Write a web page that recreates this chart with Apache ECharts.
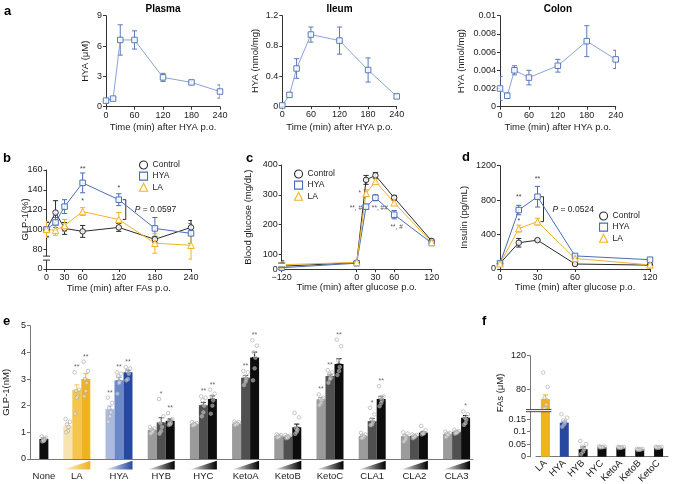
<!DOCTYPE html>
<html><head><meta charset="utf-8">
<script src="https://cdn.jsdelivr.net/npm/echarts@6.0.0/dist/echarts.min.js"></script>
<style>html,body{margin:0;padding:0;background:#fff}#c{width:681px;height:484px}</style>
</head><body><div id="c"></div><script>
const FONT = '"Liberation Sans", Arial, sans-serif';

// ---------------- data: panel a ----------------
const aTimes = [0, 15, 30, 60, 120, 180, 240];
const aTicks = [0, 60, 120, 180, 240];
const plasmaMean = [0.6, 0.8, 6.6, 6.6, 2.9, 2.4, 1.5];
const plasmaErr  = [0.2, 0.1, 1.5, 0.9, 0.4, 0.15, 0.65];
const ileumMean  = [0.01, 0.15, 0.5, 0.95, 0.87, 0.48, 0.13];
const ileumErr   = [0.02, 0.03, 0.13, 0.1, 0.18, 0.16, 0.02];
const colonMean  = [0.002, 0.0012, 0.004, 0.0032, 0.0045, 0.0072, 0.0052];
const colonErr   = [0.0013, 0.0003, 0.0005, 0.0008, 0.0007, 0.0017, 0.001];

// ---------------- data: panel b ----------------
const bTimes = [0, 15, 30, 60, 120, 180, 240];
const bTicks = [0, 30, 60, 120, 180, 240];
const bControl = [100, 117, 101, 98, 102, 90, 102];
const bControlErr = [7, 12, 6, 6, 4, 3, 7];
const bHYA = [100, 107, 123, 147, 130, 101, 96];
const bHYAErr = [8, 5, 7, 10, 6, 11, 10];
const bLA = [100, 99, 104, 118, 110, 86, 84];
const bLAErr = [8, 5, 6, 4, 7, 10, 14];

// ---------------- data: panel c ----------------
const cTimes = [-120, 0, 15, 30, 60, 120];
const cTicks = [-120, 0, 30, 60, 120];
const cControl = [60, 72, 350, 365, 290, 145];
const cControlErr = [18, 6, 15, 10, 8, 8];
const cHYA = [55, 70, 260, 290, 233, 138];
const cHYAErr = [5, 5, 8, 10, 14, 8];
const cLA = [65, 73, 305, 345, 273, 140];
const cLAErr = [6, 5, 12, 8, 8, 6];

// ---------------- data: panel d ----------------
const dTimes = [0, 15, 30, 60, 120];
const dTicks = [0, 30, 60, 120];
const dControl = [65, 305, 335, 58, 45];
const dControlErr = [15, 50, 15, 10, 8];
const dHYA = [65, 685, 840, 152, 108];
const dHYAErr = [15, 55, 120, 15, 10];
const dLA = [60, 470, 550, 122, 48];
const dLAErr = [10, 40, 40, 15, 8];

// ---------------- data: panel e ----------------
const eCats = ['None', 'LA', 'HYA', 'HYB', 'HYC', 'KetoA', 'KetoB', 'KetoC', 'CLA1', 'CLA2', 'CLA3'];
const eNone = 0.75, eNoneErr = 0.04;
const eNoneDots = [0.85, 0.8, 0.76, 0.72, 0.68, 0.66];
const eLow  = [1.25, 1.87, 1.09, 1.31, 1.33, 0.86, 2.24, 0.86, 0.86, 0.94];
const eMid  = [2.58, 2.95, 1.37, 2.02, 3.05, 0.84, 3.11, 1.42, 0.86, 1.02];
const eHigh = [3.0, 3.25, 1.43, 2.25, 3.81, 1.19, 3.56, 2.25, 0.99, 1.55];
const eLowErr  = [0.08, 0.12, 0.04, 0.03, 0.03, 0.02, 0.06, 0.03, 0.05, 0.03];
const eMidErr  = [0.2, 0.12, 0.18, 0.1, 0.08, 0.02, 0.07, 0.1, 0.03, 0.03];
const eHighErr = [0.2, 0.08, 0.07, 0.12, 0.2, 0.12, 0.2, 0.1, 0.04, 0.08];
const eLowSig  = ['', '**', '', '', '', '', '**', '', '', ''];
const eMidSig  = ['**', '**', '*', '**', '**', '', '**', '*', '', ''];
const eHighSig = ['**', '**', '**', '**', '**', '', '**', '**', '', '*'];
const eLowDots = [
  [1.5, 1.4, 1.3, 1.2, 1.05, 1.0], [2.3, 2.1, 1.9, 1.75, 1.6, 1.4], [1.2, 1.15, 1.1, 1.05, 1.0, 0.95],
  [1.38, 1.35, 1.32, 1.3, 1.28, 1.25], [1.4, 1.38, 1.35, 1.32, 1.3, 1.27], [0.92, 0.9, 0.88, 0.85, 0.82, 0.8],
  [2.42, 2.3, 2.25, 2.2, 2.1, 2.02], [0.98, 0.92, 0.88, 0.85, 0.8, 0.78], [1.0, 0.95, 0.88, 0.8, 0.72, 0.65],
  [1.02, 0.98, 0.95, 0.92, 0.88, 0.82]];
const eMidDots = [
  [3.25, 2.6, 2.55, 2.35, 2.3, 1.7], [3.25, 3.2, 3.1, 2.9, 2.85, 2.45], [2.25, 1.6, 1.35, 1.2, 1.05, 0.95],
  [2.35, 2.3, 2.2, 2.0, 1.75, 1.6], [3.3, 3.25, 3.1, 3.0, 2.9, 2.77], [0.9, 0.88, 0.85, 0.83, 0.8, 0.78],
  [3.33, 3.25, 3.18, 3.05, 3.0, 2.86], [1.92, 1.67, 1.5, 1.4, 1.3, 1.27], [0.92, 0.9, 0.88, 0.85, 0.82, 0.78],
  [1.1, 1.05, 1.02, 1.0, 0.98, 0.95]];
const eHighDots = [
  [3.65, 3.3, 3.0, 2.85, 2.55, 2.35], [3.45, 3.4, 3.3, 3.2, 3.0, 2.95], [1.72, 1.5, 1.4, 1.35, 1.3, 1.28],
  [2.6, 2.45, 2.35, 2.2, 2.0, 1.7], [4.45, 4.25, 4.0, 3.8, 3.4, 2.95], [1.73, 1.56, 1.15, 1.1, 1.02, 0.94],
  [4.48, 4.23, 3.7, 3.45, 3.3, 3.15], [2.73, 2.35, 2.3, 2.2, 2.1, 1.98], [1.24, 1.08, 1.0, 0.98, 0.95, 0.92],
  [1.78, 1.68, 1.55, 1.47, 1.35, 1.28]];

// ---------------- data: panel f ----------------
const fCats = ['LA', 'HYA', 'HYB', 'HYC', 'KetoA', 'KetoB', 'KetoC'];
const fMean = [68.5, 0.136, 0.03, 0.038, 0.036, 0.029, 0.035];
const fErr  = [5, 0.006, 0.009, 0.001, 0.001, 0.001, 0.001];
const fDots = [
  [100, 83, 70, 62, 58, 57], [0.17, 0.156, 0.145, 0.14, 0.13, 0.12], [0.063, 0.05, 0.04, 0.03, 0.02, 0.01],
  [0.041, 0.04, 0.04, 0.039, 0.038, 0.037], [0.04, 0.039, 0.038, 0.037, 0.036, 0.035],
  [0.032, 0.031, 0.03, 0.029, 0.028, 0.027], [0.04, 0.039, 0.038, 0.037, 0.036, 0.035]];

// ---------------- styles / layout ----------------
const C_CTRL = '#2b2b2b', C_HYA = '#4a6db5', C_LA = '#efb42a';
const A_LINE = '#8aa3d6', A_MARK = '#5a7abd';
const E_COLORS = {
  LA: ['#f8e4b0', '#f4c64e', '#f0b31e'],
  HYA: ['#abbadf', '#6b89c8', '#26489f'],
  other: ['#9b9b9b', '#505050', '#0d0d0d']
};
const F_COLORS = ['#f0b31e', '#26489f', '#0d0d0d', '#0d0d0d', '#0d0d0d', '#0d0d0d', '#0d0d0d'];
const ePos = [0.22, 1, 2, 3, 4, 5, 6, 7, 8, 9, 10];   // slot of each group on the hidden value axis
const EDX = 0.2133;                                     // spacing of bars inside a group
const DOT_OFF = [-2.2, 2.2, -0.8, 0.8, 0, -1.6];

const grids = [
  [106, 15.7, 114, 91],      // 0 plasma
  [282.3, 15.7, 114.4, 90.5],// 1 ileum
  [500, 15.7, 115.7, 91],    // 2 colon
  [46.5, 170, 144.5, 99],    // 3 b
  [281.7, 165, 150, 104.2],  // 4 c
  [500, 165.7, 150, 103.3],  // 5 d
  [30, 325.7, 443, 133.3],   // 6 e
  [536, 355.7, 132, 53.9],   // 7 f upper
  [536, 411.7, 132, 45]      // 8 f lower
];

function mkAxis(gi, p) {
  const col = p.color || '#333';
  const a = {
    type: p.type || 'value', gridIndex: gi, show: p.show !== false,
    offset: p.offset || 0,
    name: p.name || '', nameLocation: 'middle', nameGap: p.nameGap || 15,
    nameMoveOverlap: false,
    nameTextStyle: {fontSize: 9.5, color: '#1a1a1a', fontFamily: FONT},
    axisLine: {show: true, onZero: false, lineStyle: {color: col, width: 1}},
    axisTick: {show: p.tick !== false, length: 3, inside: false, alignWithLabel: true, lineStyle: {color: col, width: 1}},
    axisLabel: {show: true, fontSize: p.fontSize || 9, color: '#1a1a1a', fontFamily: FONT,
      margin: p.margin || 4, hideOverlap: false, showMinLabel: true, showMaxLabel: true,
      formatter: v => String(v)},
    splitLine: {show: false}, splitArea: {show: false}
  };
  if (p.type === 'category') { a.data = p.data; a.boundaryGap = true; a.axisLabel.interval = 0; a.axisTick.interval = 0; }
  else { a.min = p.min; a.max = p.max; if (p.interval) a.interval = p.interval; }
  if (p.custom) { a.axisTick.customValues = p.custom; a.axisLabel.customValues = p.custom; }
  if (p.formatter) a.axisLabel.formatter = p.formatter;
  if (p.rotate) a.axisLabel.rotate = p.rotate;
  return a;
}
const minusFmt = v => v < 0 ? '\u2212' + (-v) : String(v);

const xAxes = [
  mkAxis(0, {min: 0, max: 240, interval: 60, name: 'Time (min) after HYA p.o.', nameGap: 16}),
  mkAxis(1, {min: 0, max: 240, interval: 60, name: 'Time (min) after HYA p.o.', nameGap: 16}),
  mkAxis(2, {min: 0, max: 240, interval: 60, name: 'Time (min) after HYA p.o.', nameGap: 16}),
  mkAxis(3, {min: 0, max: 240, custom: bTicks, name: 'Time (min) after FAs p.o.', nameGap: 14}),
  mkAxis(4, {min: -120, max: 120, custom: cTicks, formatter: minusFmt, name: 'Time (min) after glucose p.o.', nameGap: 13}),
  mkAxis(5, {min: 0, max: 120, custom: dTicks, name: 'Time (min) after glucose p.o.', nameGap: 13}),
  mkAxis(6, {min: -0.109, max: 10.389, custom: ePos, tick: false, color: '#777', margin: 12, fontSize: 9.5,
    formatter: v => eCats[ePos.findIndex(p => Math.abs(p - v) < 1e-6)] || ''}),
  mkAxis(7, {type: 'category', data: fCats, show: false}),
  mkAxis(8, {type: 'category', data: fCats, color: '#777', tick: false, rotate: 45, margin: 5, fontSize: 9.5, formatter: v => v})
];
const yAxes = [
  mkAxis(0, {min: 0, max: 9, interval: 3, name: 'HYA (\u03bcM)', nameGap: 16}),
  mkAxis(1, {min: 0, max: 1.2, interval: 0.4, name: 'HYA (nmol/mg)', nameGap: 22}),
  mkAxis(2, {min: 0, max: 0.01, interval: 0.002, name: 'HYA (nmol/mg)', nameGap: 34}),
  mkAxis(3, {min: 60, max: 160, interval: 20, formatter: v => v === 60 ? '0' : String(v), name: 'GLP-1(%)', nameGap: 16}),
  mkAxis(4, {min: 50, max: 400, interval: 50, custom: [50, 100, 200, 300, 400], formatter: v => v === 50 ? '0' : String(v), name: 'Blood glucose (mg/dL)', nameGap: 28}),
  mkAxis(5, {min: 0, max: 1200, interval: 400, name: 'Insulin (pg/mL)', nameGap: 31}),
  mkAxis(6, {min: 0, max: 5, interval: 1, color: '#777', name: 'GLP-1(nM)', nameGap: 19}),
  mkAxis(7, {min: 56, max: 120, custom: [80, 120], offset: 6, color: '#777'}),
  mkAxis(8, {min: 0, max: 0.18, interval: 0.05, custom: [0, 0.05, 0.1, 0.15], offset: 6, color: '#777'})
];

function errRender(params, api) {
  const x = api.value(0), lo = api.value(1), hi = api.value(2);
  const a = api.coord([x, lo]), b = api.coord([x, hi]);
  const w = 2.6;
  const st = {stroke: api.visual('color'), lineWidth: 1, fill: null};
  return {type: 'group', children: [
    {type: 'line', shape: {x1: a[0], y1: a[1], x2: b[0], y2: b[1]}, style: st},
    {type: 'line', shape: {x1: a[0] - w, y1: a[1], x2: a[0] + w, y2: a[1]}, style: st},
    {type: 'line', shape: {x1: b[0] - w, y1: b[1], x2: b[0] + w, y2: b[1]}, style: st}
  ]};
}
function lineS(name, gi, xs, ys, color, symbol, lineColor) {
  return {type: 'line', name, xAxisIndex: gi, yAxisIndex: gi, data: xs.map((x, i) => [x, ys[i]]),
    symbol, symbolSize: symbol === 'triangle' ? 6.5 : 5.5, showAllSymbol: true, clip: false,
    lineStyle: {color: lineColor || color, width: 1},
    itemStyle: {color: 'rgba(255,255,255,0.85)', borderColor: color, borderWidth: 1}, z: 4};
}
function errS(name, gi, xs, ys, es, color) {
  return {type: 'custom', name, xAxisIndex: gi, yAxisIndex: gi, renderItem: errRender, clip: true, silent: true,
    data: xs.map((x, i) => [x, ys[i] - es[i], ys[i] + es[i]]), itemStyle: {color}, encode: {x: 0, y: [1, 2]}, z: 3};
}

const series = [];
// panel a
[[plasmaMean, plasmaErr], [ileumMean, ileumErr], [colonMean, colonErr]].forEach((d, gi) => {
  series.push(errS('HYA-a' + gi, gi, aTimes, d[0], d[1], A_MARK));
  series.push(lineS('HYA-a' + gi, gi, aTimes, d[0], A_MARK, 'rect', A_LINE));
});
// panels b, c, d
[[3, bTimes, bControl, bControlErr, bHYA, bHYAErr, bLA, bLAErr],
 [4, cTimes, cControl, cControlErr, cHYA, cHYAErr, cLA, cLAErr],
 [5, dTimes, dControl, dControlErr, dHYA, dHYAErr, dLA, dLAErr]].forEach(p => {
  const gi = p[0], t = p[1];
  series.push(errS('Control', gi, t, p[2], p[3], C_CTRL));
  series.push(errS('HYA', gi, t, p[4], p[5], C_HYA));
  series.push(errS('LA', gi, t, p[6], p[7], C_LA));
  series.push(lineS('Control', gi, t, p[2], C_CTRL, 'circle'));
  series.push(lineS('HYA', gi, t, p[4], C_HYA, 'rect'));
  series.push(lineS('LA', gi, t, p[6], C_LA, 'triangle'));
});

// panel e
const eBars = [], eErrs = [], eDotData = [], eSigData = [];
function addEBar(x, v, err, dots, sig, color) {
  eBars.push({value: [x, v], itemStyle: {color}});
  eErrs.push({value: [x, v, v + err], itemStyle: {color}});
  dots.forEach((d, k) => eDotData.push({value: [x, d], symbolOffset: [DOT_OFF[k % DOT_OFF.length], 0]}));
  if (sig) eSigData.push({name: sig, value: [x, Math.max(Math.max.apply(null, dots), v + err)]});
}
addEBar(ePos[0], eNone, eNoneErr, eNoneDots, '', E_COLORS.other[2]);
for (let g = 1; g < eCats.length; g++) {
  const pal = g === 1 ? E_COLORS.LA : g === 2 ? E_COLORS.HYA : E_COLORS.other;
  const i = g - 1;
  addEBar(ePos[g] - EDX, eLow[i], eLowErr[i], eLowDots[i], eLowSig[i], pal[0]);
  addEBar(ePos[g], eMid[i], eMidErr[i], eMidDots[i], eMidSig[i], pal[1]);
  addEBar(ePos[g] + EDX, eHigh[i], eHighErr[i], eHighDots[i], eHighSig[i], pal[2]);
}
series.push({type: 'custom', name: 'e-err', xAxisIndex: 6, yAxisIndex: 6, renderItem: errRender, data: eErrs, encode: {x: 0, y: [1, 2]}, z: 2, silent: true});
series.push({type: 'bar', name: 'e-bars', xAxisIndex: 6, yAxisIndex: 6, barWidth: 9, data: eBars, z: 3});
const dotStyle = {color: 'rgba(255,255,255,0.55)', borderColor: '#a9a9a9', borderWidth: 0.8};
series.push({type: 'scatter', name: 'e-dots', xAxisIndex: 6, yAxisIndex: 6, symbol: 'circle', symbolSize: 3.6, itemStyle: dotStyle, data: eDotData, z: 5, silent: true});
series.push({type: 'scatter', name: 'e-sig', xAxisIndex: 6, yAxisIndex: 6, symbol: 'circle', symbolSize: 1, itemStyle: {color: 'rgba(0,0,0,0)'}, data: eSigData, z: 6, silent: true,
  label: {show: true, position: 'top', distance: 1, formatter: '{b}', fontSize: 7, color: '#444', fontFamily: FONT}});

// panel f
series.push({type: 'bar', name: 'f-top', xAxisIndex: 7, yAxisIndex: 7, barWidth: 9, clip: true,
  data: fCats.map((c, i) => i === 0 ? {value: fMean[i], itemStyle: {color: F_COLORS[i]}} : '-'), z: 3});
series.push({type: 'bar', name: 'f-bottom', xAxisIndex: 8, yAxisIndex: 8, barWidth: 9, clip: true,
  data: fCats.map((c, i) => ({value: fMean[i], itemStyle: {color: F_COLORS[i]}})), z: 3});
series.push({type: 'custom', name: 'f-err-top', xAxisIndex: 7, yAxisIndex: 7, renderItem: errRender, clip: true, silent: true,
  data: [{value: [0, fMean[0], fMean[0] + fErr[0]], itemStyle: {color: F_COLORS[0]}}], z: 2});
series.push({type: 'custom', name: 'f-err-bottom', xAxisIndex: 8, yAxisIndex: 8, renderItem: errRender, clip: true, silent: true,
  data: fCats.map((c, i) => i === 0 ? null : {value: [i, fMean[i], fMean[i] + fErr[i]], itemStyle: {color: F_COLORS[i]}}).filter(Boolean), z: 2});
series.push({type: 'scatter', name: 'f-dots-top', xAxisIndex: 7, yAxisIndex: 7, symbol: 'circle', symbolSize: 3.6, itemStyle: dotStyle, z: 5, silent: true,
  data: fDots[0].map((d, k) => ({value: [0, d], symbolOffset: [DOT_OFF[k], 0]}))});
const fLowDots = [];
fDots.forEach((arr, i) => { if (i > 0) arr.forEach((d, k) => fLowDots.push({value: [i, d], symbolOffset: [DOT_OFF[k] * 1.3, 0]})); });
series.push({type: 'scatter', name: 'f-dots-bottom', xAxisIndex: 8, yAxisIndex: 8, symbol: 'circle', symbolSize: 3.6, itemStyle: dotStyle, z: 5, silent: true, data: fLowDots});

function legendAt(left, top) {
  return {orient: 'vertical', left, top, itemWidth: 8, itemHeight: 8, itemGap: 2, padding: 0, selectedMode: false,
    textStyle: {fontSize: 8.5, color: '#1a1a1a', fontFamily: FONT},
    data: [
      {name: 'Control', icon: 'circle', itemStyle: {color: '#fff', borderColor: C_CTRL, borderWidth: 1.1}},
      {name: 'HYA', icon: 'rect', itemStyle: {color: '#fff', borderColor: C_HYA, borderWidth: 1.1}},
      {name: 'LA', icon: 'triangle', itemStyle: {color: '#fff', borderColor: C_LA, borderWidth: 1.1}}
    ]};
}

const option = {
  animation: false,
  backgroundColor: '#fff',
  textStyle: {fontFamily: FONT},
  grid: grids.map(g => ({left: g[0], top: g[1], width: g[2], height: g[3], containLabel: false, outerBoundsMode: 'none'})),
  xAxis: xAxes, yAxis: yAxes,
  legend: [legendAt(139, 160.5), legendAt(294, 169.5), legendAt(599, 211.5)],
  series
};

const chart = echarts.init(document.getElementById('c'), null, {renderer: 'canvas'});
chart.setOption(option);

// ---------------- decorations (positions derived through the axes) ----------------
const px = (gi, x, y) => chart.convertToPixel({gridIndex: gi}, [x, y]);
const gfx = [];
function txt(x, y, text, o) {
  gfx.push(Object.assign({type: 'text', x, y, silent: true, style: Object.assign({text, fill: '#1a1a1a', fontFamily: FONT, fontSize: 9,
    align: 'left', verticalAlign: 'middle'}, (o && o.style) || {})}, o && o.rotation !== undefined ? {rotation: o.rotation} : {}));
}
const lineEl = (x1, y1, x2, y2, color) => gfx.push({type: 'line', silent: true, shape: {x1, y1, x2, y2}, style: {stroke: color || '#333', lineWidth: 1}});

// panel letters and titles
[['a', 4, 11], ['b', 3, 158], ['c', 246, 158], ['d', 462, 157], ['e', 3, 321], ['f', 482, 321]].forEach(l =>
  txt(l[1], l[2], l[0], {style: {fontSize: 13, fontWeight: 'bold', fill: '#000'}}));
[['Plasma', 0], ['Ileum', 1], ['Colon', 2]].forEach(t => {
  const g = grids[t[1]];
  txt(g[0] + g[2] / 2, 9, t[0], {style: {fontSize: 10, fontWeight: 'bold', align: 'center', fill: '#000'}});
});

// axis breaks
function yBreak(gi, yv, gap) {
  const p = px(gi, chart.getModel().getComponent('xAxis', gi).get('min'), yv);
  const x = grids[gi][0], y = p[1];
  gfx.push({type: 'rect', silent: true, shape: {x: x - 4, y: y - gap / 2, width: 8, height: gap}, style: {fill: '#fff'}, z: 100});
  gfx.push({type: 'line', silent: true, z: 101, shape: {x1: x - 3.5, y1: y - gap / 2, x2: x + 3.5, y2: y - gap / 2}, style: {stroke: '#333', lineWidth: 1}});
  gfx.push({type: 'line', silent: true, z: 101, shape: {x1: x - 3.5, y1: y + gap / 2, x2: x + 3.5, y2: y + gap / 2}, style: {stroke: '#333', lineWidth: 1}});
}
yBreak(3, 71, 4);
yBreak(4, 64, 4);
// panel f break between the two stacked grids
(function () {
  const top = grids[7][1] + grids[7][3], bot = grids[8][1];
  const xl = grids[8][0] - 10, xr = px(8, 0, 0)[0] + 6;
  gfx.push({type: 'rect', silent: true, z: 100, shape: {x: xl, y: top, width: xr - xl, height: bot - top}, style: {fill: '#fff'}});
  gfx.push({type: 'line', silent: true, z: 101, shape: {x1: xl, y1: top, x2: xr, y2: top}, style: {stroke: '#333', lineWidth: 0.9}});
  gfx.push({type: 'line', silent: true, z: 101, shape: {x1: xl, y1: bot, x2: xr, y2: bot}, style: {stroke: '#333', lineWidth: 0.9}});
})();
txt(500, 393, 'FAs (\u03bcM)', {rotation: Math.PI / 2, style: {fontSize: 9.5, align: 'center'}});

// wedges under panel e groups
for (let g = 1; g < eCats.length; g++) {
  const l = px(6, ePos[g] - EDX, 0)[0] - 4.5, r = px(6, ePos[g] + EDX, 0)[0] + 4.5;
  const pal = g === 1 ? ['#fdf1d2', '#f0b31e'] : g === 2 ? ['#eef1f9', '#26489f'] : ['#f2f2f2', '#000'];
  gfx.push({type: 'polygon', silent: true, shape: {points: [[l, 469.5], [r, 469.5], [r, 460.8]]},
    style: {fill: new echarts.graphic.LinearGradient(0, 0, 1, 0, [{offset: 0, color: pal[0]}, {offset: 1, color: pal[1]}])}});
}

// annotations panel b
const noteStyle = {fontSize: 7, fill: '#444', align: 'center'};
[[60, 161, '**'], [60, 128.5, '*'], [120, 141.5, '*']].forEach(n => { const p = px(3, n[0], n[1]); txt(p[0], p[1], n[2], {style: noteStyle}); });
// annotations panel c
[[5, 306, '*', 'center'], [15, 255.5, '**, #', 'right'], [37, 255.5, '**, ##', 'center'], [64, 192, '**, #', 'center']].forEach(n => {
  const p = px(4, n[0], n[1]); txt(n[3] === 'right' ? p[0] - 4 : p[0], p[1], n[2], {style: {fontSize: 6.5, fill: '#555', align: n[3]}});
});
// annotations panel d
[[15, 840, '**'], [15, 557, '*'], [30, 1042, '**']].forEach(n => { const p = px(5, n[0], n[1]); txt(p[0], p[1], n[2], {style: noteStyle}); });

// brackets with P values
function bracket(gi, x, y1, y2, dx, label) {
  const a = px(gi, x, y1), b = px(gi, x, y2);
  const bx = a[0] + dx;
  lineEl(bx, a[1], bx, b[1], '#333');
  lineEl(bx - 3, a[1], bx, a[1], '#333');
  lineEl(bx - 3, b[1], bx, b[1], '#333');
  gfx.push({type: 'text', silent: true, x: bx + 9, y: (a[1] + b[1]) / 2,
    style: {text: '{i|P} = ' + label, fill: '#1a1a1a', fontFamily: FONT, fontSize: 8.5, verticalAlign: 'middle',
      rich: {i: {fontStyle: 'italic', fontSize: 8.5, fontFamily: FONT}}}});
}
bracket(3, 120, bHYA[4], bLA[4], 7, '0.0597');
bracket(5, 30, dHYA[2], dLA[2], 6, '0.0524');

chart.setOption({graphic: {elements: gfx}});
</script></body></html>
